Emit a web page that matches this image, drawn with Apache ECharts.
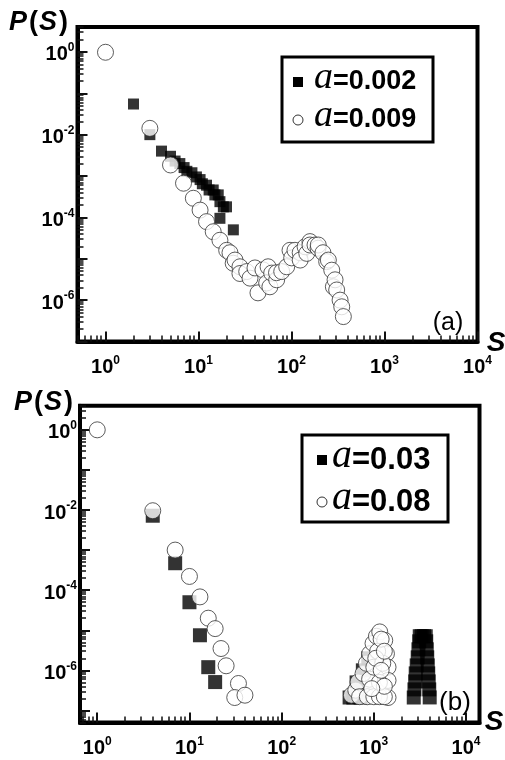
<!DOCTYPE html>
<html><head><meta charset="utf-8">
<script src="https://cdn.jsdelivr.net/npm/echarts@6/dist/echarts.min.js"></script>
<style>html,body{margin:0;padding:0;background:#fff}#c{width:505px;height:760px}</style>
</head><body><div id="c"></div>
<script>
// ---- Panel (a) data ----
const sA002 = [2, 3, 4, 5, 5.6, 6.3, 7, 7.5, 8.5, 9.5, 10.4, 11, 12.2, 13, 14.4, 15, 16.3, 17, 18.5, 20, 17, 23.7];
const pA002 = [5.5e-2, 1.0e-2, 4.0e-3, 3.0e-3, 2.3e-3, 2.0e-3, 1.6e-3, 1.3e-3, 1.2e-3, 9.5e-4, 8.2e-4, 6.5e-4, 6.0e-4, 4.6e-4, 4.6e-4, 3.5e-4, 3.5e-4, 2.4e-4, 1.8e-4, 1.8e-4, 9.5e-5, 5.0e-5];
const sA009 = [1, 3, 5, 6.9, 8.8, 10.4, 12.2, 14.4, 17, 20.1, 21.8, 23.6, 24.7, 27.9, 27.9, 33, 35.8, 40.5, 43.6, 49.4, 54.1, 56, 58.6, 61.2, 69.3, 69, 78.5, 88.8, 96.4, 100.5, 109, 124, 124, 140, 146, 158, 158, 179, 193, 194, 218, 239, 249, 271, 282, 294, 306, 333, 347, 361];
const pA009 = [0.98, 1.42e-2, 1.85e-3, 6.7e-4, 2.9e-4, 1.5e-4, 7.9e-5, 4.5e-5, 2.8e-5, 1.6e-5, 1.4e-5, 7.8e-6, 9.3e-6, 6.4e-6, 4.4e-6, 4.9e-6, 3.4e-6, 6.0e-6, 1.5e-6, 5.4e-6, 2.6e-6, 6.4e-6, 2.1e-6, 4.5e-6, 3.1e-6, 4.6e-6, 4.9e-6, 6.4e-6, 1.6e-5, 1.05e-5, 1.6e-5, 1.4e-5, 9.3e-6, 1.95e-5, 1.35e-5, 2.6e-5, 2.15e-5, 2.15e-5, 1.8e-5, 2.15e-5, 1.4e-5, 8.5e-6, 9.3e-6, 5.3e-6, 2.1e-6, 3.1e-6, 1.76e-6, 1.0e-6, 6.9e-7, 4.0e-7];

// ---- Panel (b) data ----
const sA003 = [4, 7, 10, 13, 16, 19, 546, 600, 660, 720, 650, 760, 870, 2710, 2757, 2811, 2846, 2917, 2991, 3046, 3106, 3148, 3300, 3500, 3657, 3700, 3748, 3795, 3844, 3890, 3937, 3990, 4037];
const pA003 = [7.2e-3, 4.7e-4, 5.0e-5, 7.5e-6, 1.2e-6, 5.1e-7, 2.1e-7, 2.1e-7, 3.3e-7, 2.1e-7, 5.0e-7, 1.0e-6, 2.0e-6, 2.1e-7, 3.35e-7, 5.3e-7, 8.4e-7, 1.33e-6, 2.11e-6, 3.35e-6, 5.3e-6, 7.1e-6, 7.1e-6, 7.1e-6, 7.1e-6, 5.3e-6, 3.35e-6, 2.11e-6, 1.33e-6, 8.4e-7, 5.3e-7, 3.35e-7, 2.11e-7];
const sA008 = [1, 4, 7, 10, 13, 16, 19, 22, 25, 34, 31, 40, 571, 637, 674, 764, 831, 902, 980, 1067, 1159, 1313, 1370, 1426, 1426, 1426, 700, 850, 1000, 1150, 1300, 900, 1000, 1100, 1200, 1250, 1150, 1300, 1050, 1200, 1300, 950];
const pA008 = [1.0, 9.6e-3, 1.0e-3, 2.2e-4, 6.8e-5, 2.0e-5, 1.1e-5, 3.5e-6, 1.3e-6, 4.7e-7, 2.1e-7, 2.4e-7, 2.4e-7, 3.2e-7, 5.1e-7, 8.3e-7, 1.5e-6, 2.6e-6, 4.7e-6, 7.1e-6, 9.1e-6, 5.6e-6, 2.6e-6, 1.2e-6, 5.6e-7, 2.1e-7, 2.2e-7, 2.2e-7, 2.2e-7, 2.2e-7, 2.2e-7, 6.0e-7, 1.2e-6, 3.0e-6, 6.0e-6, 1.5e-6, 5.0e-7, 4.0e-7, 2.0e-6, 1.0e-6, 3.0e-6, 3.5e-7];

// ---- axis ticks / labels ----
const xLabelValues = [1, 10, 100, 1000, 10000];
const yLabelValues = [1, 1e-2, 1e-4, 1e-6];
const xMajorTicks = [1, 10, 100, 1000, 10000];
const yMajorTicks = [1, 1e-1, 1e-2, 1e-3, 1e-4, 1e-5, 1e-6, 1e-7];
const legendLabelsA = ['=0.002', '=0.009'];
const legendLabelsB = ['=0.03', '=0.08'];
const seriesNames = ['a=0.002', 'a=0.009', 'a=0.03', 'a=0.08'];

function minorTicks(e0, e1) {
  const out = [];
  for (let e = e0; e <= e1; e++) for (let k = 2; k <= 9; k++) out.push(+(k * Math.pow(10, e)).toPrecision(3));
  return out;
}
const xMinor = minorTicks(-1, 4);
const yMinor = minorTicks(-8, 0);

function zip(a, b) { return a.map((v, i) => [v, b[i]]); }
function fmt(v) { const e = Math.round(Math.log10(v)); return '{b|10}{s|' + e + '}'; }
const FONT = 'Liberation Sans, Arial, sans-serif';
const SERIF = 'Liberation Serif, Times New Roman, serif';
const TICK = '#111';
const labelRich = {
  b: { fontFamily: FONT, fontWeight: 'bold', fontSize: 20, color: '#000', lineHeight: 26 },
  s: { fontFamily: FONT, fontWeight: 'bold', fontSize: 12, color: '#000', lineHeight: 12, verticalAlign: 'top' }
};

function mainAxis(dim, grid, min, max) {
  const isX = dim === 'x';
  return {
    type: 'log', gridIndex: grid, min: min, max: max, position: isX ? 'bottom' : 'left', splitLine: { show: false },
    axisLine: { show: true, lineStyle: { color: '#000', width: 4 } },
    axisTick: { show: true, inside: true, length: 10, lineStyle: { color: TICK, width: 2 }, customValues: isX ? xMajorTicks : yMajorTicks },
    axisLabel: isX
      ? { show: true, customValues: xLabelValues, formatter: fmt, margin: 13, rich: labelRich }
      : { show: true, customValues: yLabelValues, formatter: fmt, margin: 3, padding: [6, 0, 0, 0], rich: labelRich }
  };
}
function minorAxis(dim, grid, min, max) {
  const isX = dim === 'x';
  return {
    type: 'log', gridIndex: grid, min: min, max: max, position: isX ? 'bottom' : 'left', splitLine: { show: false },
    axisLine: { show: false },
    axisTick: { show: true, inside: true, length: 6, lineStyle: { color: TICK, width: 1.5 }, customValues: isX ? xMinor : yMinor },
    axisLabel: { show: false }
  };
}

// plain-text helpers (legend box, panel annotations)
function txt(x, y, text, font, align) {
  return { type: 'text', x: x, y: y, z: 100, style: { text: text, font: font, fill: '#000', align: align || 'left', verticalAlign: 'middle' } };
}
function legendBox(x, y, w, h, rowY, iconX, aX, nX, labels, aFont, nFont) {
  return [
    { type: 'rect', z: 99, shape: { x: x, y: y, width: w, height: h }, style: { fill: '#fff', stroke: '#000', lineWidth: 3 } },
    { type: 'rect', z: 100, shape: { x: iconX - 5, y: rowY[0] - 5, width: 10, height: 10 }, style: { fill: '#000' } },
    { type: 'circle', z: 100, shape: { cx: iconX, cy: rowY[1], r: 5 }, style: { fill: '#fff', stroke: '#333', lineWidth: 1 } },
    txt(aX, rowY[0] - 4, 'a', aFont), txt(nX, rowY[0], labels[0], nFont),
    txt(aX, rowY[1] - 4, 'a', aFont), txt(nX, rowY[1], labels[1], nFont)
  ];
}
function pOfS(x, y) {
  return [
    txt(x, y, 'P', 'italic bold 27px Liberation Sans'),
    txt(x + 20, y, '(', 'bold 27px Liberation Sans'),
    txt(x + 30, y, 'S', 'italic bold 27px Liberation Sans'),
    txt(x + 50, y, ')', 'bold 27px Liberation Sans')
  ];
}

const squareStyle = { color: '#000' };
const circleStyle = { color: '#fff', borderColor: '#333', borderWidth: 1 };
const gridA = { left: 77.5, right: 27.5, top: 27, height: 314.5 };
const gridB = { left: 80, right: 25.5, top: 405.7, height: 316.8 };

const option = {
  animation: false,
  backgroundColor: '#fff',
  grid: [
    Object.assign({ show: true, borderColor: '#000', borderWidth: 4 }, gridA),
    Object.assign({ show: true, borderColor: '#000', borderWidth: 4 }, gridB),
    Object.assign({ show: false }, gridA),
    Object.assign({ show: false }, gridB)
  ],
  xAxis: [mainAxis('x', 0, 0.5, 10000), mainAxis('x', 1, 0.65, 14000), minorAxis('x', 2, 0.5, 10000), minorAxis('x', 3, 0.65, 14000)],
  yAxis: [mainAxis('y', 0, 1e-7, 4), mainAxis('y', 1, 5e-8, 4), minorAxis('y', 2, 1e-7, 4), minorAxis('y', 3, 5e-8, 4)],
  series: [
    { name: seriesNames[0], type: 'scatter', xAxisIndex: 0, yAxisIndex: 0, symbol: 'rect', symbolSize: 11, itemStyle: squareStyle, data: zip(sA002, pA002) },
    { name: seriesNames[1], type: 'scatter', xAxisIndex: 0, yAxisIndex: 0, symbol: 'circle', symbolSize: 16, itemStyle: circleStyle, data: zip(sA009, pA009) },
    { name: seriesNames[2], type: 'scatter', xAxisIndex: 1, yAxisIndex: 1, symbol: 'rect', symbolSize: 14, itemStyle: squareStyle, data: zip(sA003, pA003) },
    { name: seriesNames[3], type: 'scatter', xAxisIndex: 1, yAxisIndex: 1, symbol: 'circle', symbolSize: 16, itemStyle: circleStyle, data: zip(sA008, pA008) }
  ],
  graphic: [].concat(
    legendBox(282, 57, 151, 85, [82, 120], 298, 314, 333, legendLabelsA, 'italic 38px Liberation Serif', 'bold 27px Liberation Sans'),
    legendBox(302, 435, 146, 87, [460, 502], 322, 332, 352, legendLabelsB, 'italic 40px Liberation Serif', 'bold 31px Liberation Sans'),
    pOfS(9, 23),
    pOfS(14, 403),
    [
      txt(496, 343, 'S', 'italic bold 28px Liberation Sans', 'center'),
      txt(494, 722, 'S', 'italic bold 28px Liberation Sans', 'center'),
      txt(448, 323, '(a)', '25px Liberation Sans', 'center'),
      txt(455, 703, '(b)', '26px Liberation Sans', 'center')
    ]
  )
};
const chart = echarts.init(document.getElementById('c'));
chart.setOption(option);
</script></body></html>
